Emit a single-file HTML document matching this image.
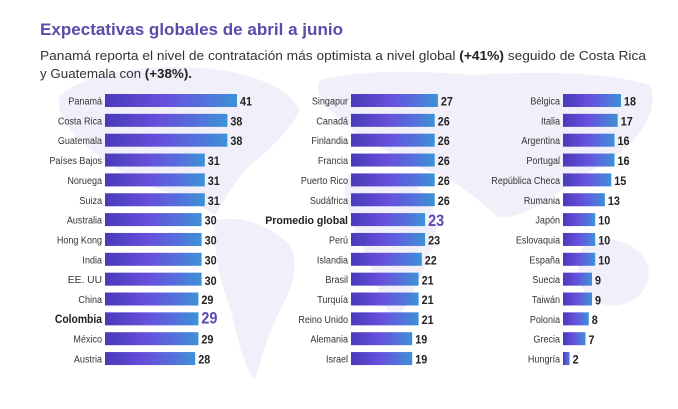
<!DOCTYPE html>
<html><head><meta charset="utf-8"><style>
html,body{margin:0;padding:0;background:#fff;}
svg{display:block;}
text{font-family:"Liberation Sans",Arial,sans-serif;}
.l{font-size:10.5px;fill:#333;}
.v{font-size:12px;font-weight:bold;fill:#222;}
.b{font-size:11.5px;font-weight:bold;fill:#222;}
.bv{font-size:17px;font-weight:bold;fill:#5a49b4;}
</style></head><body>
<svg width="678" height="409" viewBox="0 0 678 409" xmlns="http://www.w3.org/2000/svg">
<defs>
<linearGradient id="g" x1="0" y1="0" x2="1" y2="0">
<stop offset="0" stop-color="#4a3ab8"/>
<stop offset="0.45" stop-color="#6650dc"/>
<stop offset="0.75" stop-color="#5470dc"/>
<stop offset="1" stop-color="#3c92d6"/>
</linearGradient>
</defs>
<rect width="678" height="409" fill="#fff"/>
<!-- faint world map -->
<g fill="#f1f0fa">
<path d="M60 95 C90 70 160 62 220 70 C260 76 290 90 300 110 C290 130 270 150 250 165 C235 180 225 200 215 215 C200 205 180 195 160 190 C130 180 100 160 80 140 C65 125 55 110 60 95Z"/>
<path d="M215 220 C240 215 270 225 290 245 C300 265 292 290 280 310 C270 330 262 355 255 380 C245 370 238 340 232 315 C224 290 212 260 215 220Z"/>
<path d="M320 80 C360 70 420 70 470 75 C530 72 600 70 650 85 C660 110 640 140 610 160 C585 175 560 190 540 205 C520 215 505 220 495 215 C480 200 460 185 440 175 C420 168 400 160 385 150 C365 140 345 125 330 110 C320 100 315 90 320 80Z"/>
<path d="M350 175 C380 170 410 178 425 195 C440 215 438 240 425 265 C415 290 405 310 395 320 C385 310 378 290 370 265 C360 240 348 215 345 195 C344 185 346 178 350 175Z"/>
<path d="M590 240 C615 235 640 245 648 265 C652 285 640 300 620 305 C600 308 585 298 580 282 C576 265 578 248 590 240Z"/>
</g>
<!-- title -->
<text x="40" y="35" font-size="17" font-weight="bold" fill="#5a4aaa" textLength="303" lengthAdjust="spacingAndGlyphs">Expectativas globales de abril a junio</text>
<text x="40" y="60" font-size="13" fill="#333" textLength="606" lengthAdjust="spacingAndGlyphs">Panamá reporta el nivel de contratación más optimista a nivel global <tspan font-weight="bold" fill="#222">(+41%)</tspan> seguido de Costa Rica</text>
<text x="40" y="78" font-size="13" fill="#333" textLength="152" lengthAdjust="spacingAndGlyphs">y Guatemala con <tspan font-weight="bold" fill="#222">(+38%).</tspan></text>

<!-- Column 1 -->
<g>
<g transform="translate(0,94)"><rect x="105" y="0" width="132.0" height="13" fill="url(#g)"/><text class="l" text-anchor="end" transform="translate(102,10.5) scale(0.86,1)">Panamá</text><text class="v" transform="translate(240,11.5) scale(0.9,1)">41</text></g>
<g transform="translate(0,113.85)"><rect x="105" y="0" width="122.4" height="13" fill="url(#g)"/><text class="l" text-anchor="end" transform="translate(102,10.5) scale(0.86,1)">Costa Rica</text><text class="v" transform="translate(230.4,11.5) scale(0.9,1)">38</text></g>
<g transform="translate(0,133.7)"><rect x="105" y="0" width="122.4" height="13" fill="url(#g)"/><text class="l" text-anchor="end" transform="translate(102,10.5) scale(0.86,1)">Guatemala</text><text class="v" transform="translate(230.4,11.5) scale(0.9,1)">38</text></g>
<g transform="translate(0,153.55)"><rect x="105" y="0" width="99.8" height="13" fill="url(#g)"/><text class="l" text-anchor="end" transform="translate(102,10.5) scale(0.86,1)">Países Bajos</text><text class="v" transform="translate(207.8,11.5) scale(0.9,1)">31</text></g>
<g transform="translate(0,173.4)"><rect x="105" y="0" width="99.8" height="13" fill="url(#g)"/><text class="l" text-anchor="end" transform="translate(102,10.5) scale(0.86,1)">Noruega</text><text class="v" transform="translate(207.8,11.5) scale(0.9,1)">31</text></g>
<g transform="translate(0,193.25)"><rect x="105" y="0" width="99.8" height="13" fill="url(#g)"/><text class="l" text-anchor="end" transform="translate(102,10.5) scale(0.86,1)">Suiza</text><text class="v" transform="translate(207.8,11.5) scale(0.9,1)">31</text></g>
<g transform="translate(0,213.1)"><rect x="105" y="0" width="96.6" height="13" fill="url(#g)"/><text class="l" text-anchor="end" transform="translate(102,10.5) scale(0.86,1)">Australia</text><text class="v" transform="translate(204.6,11.5) scale(0.9,1)">30</text></g>
<g transform="translate(0,232.95)"><rect x="105" y="0" width="96.6" height="13" fill="url(#g)"/><text class="l" text-anchor="end" transform="translate(102,10.5) scale(0.86,1)">Hong Kong</text><text class="v" transform="translate(204.6,11.5) scale(0.9,1)">30</text></g>
<g transform="translate(0,252.8)"><rect x="105" y="0" width="96.6" height="13" fill="url(#g)"/><text class="l" text-anchor="end" transform="translate(102,10.5) scale(0.86,1)">India</text><text class="v" transform="translate(204.6,11.5) scale(0.9,1)">30</text></g>
<g transform="translate(0,272.65)"><rect x="105" y="0" width="96.6" height="13" fill="url(#g)"/><text class="l" text-anchor="end" transform="translate(102,10.5) scale(0.98,1)">EE. UU</text><text class="v" transform="translate(204.6,12.5) scale(0.9,1)">30</text></g>
<g transform="translate(0,292.5)"><rect x="105" y="0" width="93.4" height="13" fill="url(#g)"/><text class="l" text-anchor="end" transform="translate(102,10.5) scale(0.86,1)">China</text><text class="v" transform="translate(201.4,11.5) scale(0.9,1)">29</text></g>
<g transform="translate(0,312.35)"><rect x="105" y="0" width="93.4" height="13" fill="url(#g)"/><text class="b" text-anchor="end" transform="translate(102,10.8) scale(0.9,1)">Colombia</text><text class="bv" transform="translate(201.4,11) scale(0.85,1)">29</text></g>
<g transform="translate(0,332.2)"><rect x="105" y="0" width="93.4" height="13" fill="url(#g)"/><text class="l" text-anchor="end" transform="translate(102,10.5) scale(0.86,1)">México</text><text class="v" transform="translate(201.4,11.5) scale(0.9,1)">29</text></g>
<g transform="translate(0,352.05)"><rect x="105" y="0" width="90.2" height="13" fill="url(#g)"/><text class="l" text-anchor="end" transform="translate(102,10.5) scale(0.86,1)">Austria</text><text class="v" transform="translate(198.2,11.5) scale(0.9,1)">28</text></g>
</g>

<!-- Column 2 -->
<g>
<g transform="translate(0,94)"><rect x="351" y="0" width="86.9" height="13" fill="url(#g)"/><text class="l" text-anchor="end" transform="translate(348,10.5) scale(0.86,1)">Singapur</text><text class="v" transform="translate(440.9,11.5) scale(0.9,1)">27</text></g>
<g transform="translate(0,113.85)"><rect x="351" y="0" width="83.7" height="13" fill="url(#g)"/><text class="l" text-anchor="end" transform="translate(348,10.5) scale(0.86,1)">Canadá</text><text class="v" transform="translate(437.7,11.5) scale(0.9,1)">26</text></g>
<g transform="translate(0,133.7)"><rect x="351" y="0" width="83.7" height="13" fill="url(#g)"/><text class="l" text-anchor="end" transform="translate(348,10.5) scale(0.86,1)">Finlandia</text><text class="v" transform="translate(437.7,11.5) scale(0.9,1)">26</text></g>
<g transform="translate(0,153.55)"><rect x="351" y="0" width="83.7" height="13" fill="url(#g)"/><text class="l" text-anchor="end" transform="translate(348,10.5) scale(0.86,1)">Francia</text><text class="v" transform="translate(437.7,11.5) scale(0.9,1)">26</text></g>
<g transform="translate(0,173.4)"><rect x="351" y="0" width="83.7" height="13" fill="url(#g)"/><text class="l" text-anchor="end" transform="translate(348,10.5) scale(0.86,1)">Puerto Rico</text><text class="v" transform="translate(437.7,11.5) scale(0.9,1)">26</text></g>
<g transform="translate(0,193.25)"><rect x="351" y="0" width="83.7" height="13" fill="url(#g)"/><text class="l" text-anchor="end" transform="translate(348,10.5) scale(0.86,1)">Sudáfrica</text><text class="v" transform="translate(437.7,11.5) scale(0.9,1)">26</text></g>
<g transform="translate(0,213.1)"><rect x="351" y="0" width="74.1" height="13" fill="url(#g)"/><text class="b" text-anchor="end" transform="translate(348,10.8) scale(0.92,1)">Promedio global</text><text class="bv" transform="translate(428.1,12.8) scale(0.85,1)">23</text></g>
<g transform="translate(0,232.95)"><rect x="351" y="0" width="74.1" height="13" fill="url(#g)"/><text class="l" text-anchor="end" transform="translate(348,10.5) scale(0.86,1)">Perú</text><text class="v" transform="translate(428.1,11.5) scale(0.9,1)">23</text></g>
<g transform="translate(0,252.8)"><rect x="351" y="0" width="70.8" height="13" fill="url(#g)"/><text class="l" text-anchor="end" transform="translate(348,10.5) scale(0.86,1)">Islandia</text><text class="v" transform="translate(424.8,11.5) scale(0.9,1)">22</text></g>
<g transform="translate(0,272.65)"><rect x="351" y="0" width="67.6" height="13" fill="url(#g)"/><text class="l" text-anchor="end" transform="translate(348,10.5) scale(0.86,1)">Brasil</text><text class="v" transform="translate(421.6,12) scale(0.9,1)">21</text></g>
<g transform="translate(0,292.5)"><rect x="351" y="0" width="67.6" height="13" fill="url(#g)"/><text class="l" text-anchor="end" transform="translate(348,10.5) scale(0.86,1)">Turquía</text><text class="v" transform="translate(421.6,11.5) scale(0.9,1)">21</text></g>
<g transform="translate(0,312.35)"><rect x="351" y="0" width="67.6" height="13" fill="url(#g)"/><text class="l" text-anchor="end" transform="translate(348,10.5) scale(0.86,1)">Reino Unido</text><text class="v" transform="translate(421.6,11.5) scale(0.9,1)">21</text></g>
<g transform="translate(0,332.2)"><rect x="351" y="0" width="61.2" height="13" fill="url(#g)"/><text class="l" text-anchor="end" transform="translate(348,10.5) scale(0.86,1)">Alemania</text><text class="v" transform="translate(415.2,11.5) scale(0.9,1)">19</text></g>
<g transform="translate(0,352.05)"><rect x="351" y="0" width="61.2" height="13" fill="url(#g)"/><text class="l" text-anchor="end" transform="translate(348,10.5) scale(0.86,1)">Israel</text><text class="v" transform="translate(415.2,11.5) scale(0.9,1)">19</text></g>
</g>

<!-- Column 3 -->
<g>
<g transform="translate(0,94)"><rect x="563" y="0" width="58.0" height="13" fill="url(#g)"/><text class="l" text-anchor="end" transform="translate(560,10.5) scale(0.86,1)">Bélgica</text><text class="v" transform="translate(624,11.5) scale(0.9,1)">18</text></g>
<g transform="translate(0,113.85)"><rect x="563" y="0" width="54.7" height="13" fill="url(#g)"/><text class="l" text-anchor="end" transform="translate(560,10.5) scale(0.86,1)">Italia</text><text class="v" transform="translate(620.7,11.5) scale(0.9,1)">17</text></g>
<g transform="translate(0,133.7)"><rect x="563" y="0" width="51.5" height="13" fill="url(#g)"/><text class="l" text-anchor="end" transform="translate(560,10.5) scale(0.86,1)">Argentina</text><text class="v" transform="translate(617.5,11.5) scale(0.9,1)">16</text></g>
<g transform="translate(0,153.55)"><rect x="563" y="0" width="51.5" height="13" fill="url(#g)"/><text class="l" text-anchor="end" transform="translate(560,10.5) scale(0.86,1)">Portugal</text><text class="v" transform="translate(617.5,11.5) scale(0.9,1)">16</text></g>
<g transform="translate(0,173.4)"><rect x="563" y="0" width="48.3" height="13" fill="url(#g)"/><text class="l" text-anchor="end" transform="translate(560,10.5) scale(0.86,1)">República Checa</text><text class="v" transform="translate(614.3,11.5) scale(0.9,1)">15</text></g>
<g transform="translate(0,193.25)"><rect x="563" y="0" width="41.9" height="13" fill="url(#g)"/><text class="l" text-anchor="end" transform="translate(560,10.5) scale(0.86,1)">Rumania</text><text class="v" transform="translate(607.9,11.5) scale(0.9,1)">13</text></g>
<g transform="translate(0,213.1)"><rect x="563" y="0" width="32.2" height="13" fill="url(#g)"/><text class="l" text-anchor="end" transform="translate(560,10.5) scale(0.86,1)">Japón</text><text class="v" transform="translate(598.2,11.5) scale(0.9,1)">10</text></g>
<g transform="translate(0,232.95)"><rect x="563" y="0" width="32.2" height="13" fill="url(#g)"/><text class="l" text-anchor="end" transform="translate(560,10.5) scale(0.86,1)">Eslovaquia</text><text class="v" transform="translate(598.2,11.5) scale(0.9,1)">10</text></g>
<g transform="translate(0,252.8)"><rect x="563" y="0" width="32.2" height="13" fill="url(#g)"/><text class="l" text-anchor="end" transform="translate(560,10.5) scale(0.86,1)">España</text><text class="v" transform="translate(598.2,11.5) scale(0.9,1)">10</text></g>
<g transform="translate(0,272.65)"><rect x="563" y="0" width="29.0" height="13" fill="url(#g)"/><text class="l" text-anchor="end" transform="translate(560,10.5) scale(0.86,1)">Suecia</text><text class="v" transform="translate(595,12) scale(0.9,1)">9</text></g>
<g transform="translate(0,292.5)"><rect x="563" y="0" width="29.0" height="13" fill="url(#g)"/><text class="l" text-anchor="end" transform="translate(560,10.5) scale(0.86,1)">Taiwán</text><text class="v" transform="translate(595,12) scale(0.9,1)">9</text></g>
<g transform="translate(0,312.35)"><rect x="563" y="0" width="25.8" height="13" fill="url(#g)"/><text class="l" text-anchor="end" transform="translate(560,10.5) scale(0.86,1)">Polonia</text><text class="v" transform="translate(591.8,11.5) scale(0.9,1)">8</text></g>
<g transform="translate(0,332.2)"><rect x="563" y="0" width="22.5" height="13" fill="url(#g)"/><text class="l" text-anchor="end" transform="translate(560,10.5) scale(0.86,1)">Grecia</text><text class="v" transform="translate(588.5,12) scale(0.9,1)">7</text></g>
<g transform="translate(0,352.05)"><rect x="563" y="0" width="6.6" height="13" fill="url(#g)"/><text class="l" text-anchor="end" transform="translate(560,10.5) scale(0.86,1)">Hungría</text><text class="v" transform="translate(572.6,11.5) scale(0.9,1)">2</text></g>
</g>
</svg>
</body></html>
